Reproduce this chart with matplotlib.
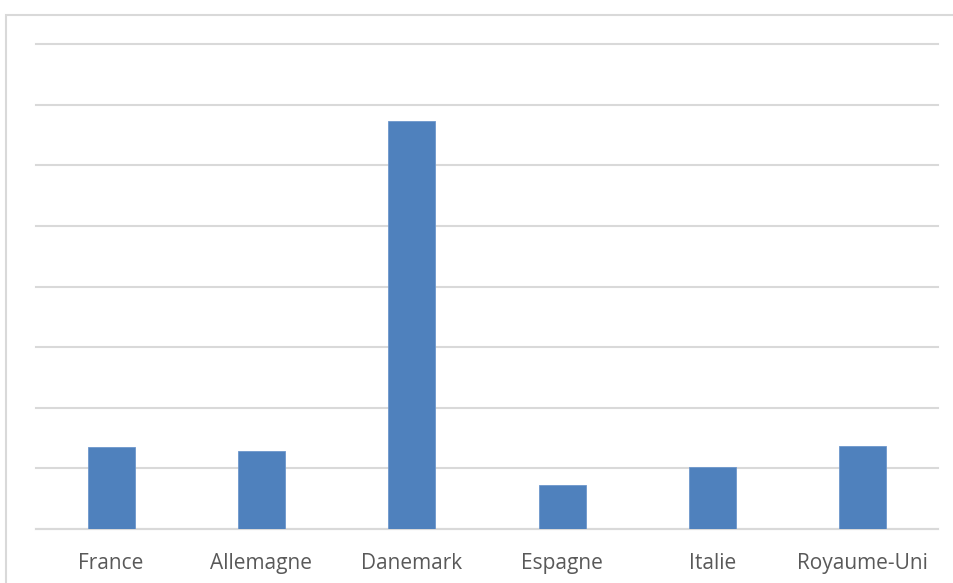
import matplotlib
matplotlib.use("Agg")
import matplotlib.pyplot as plt
from matplotlib.patches import Rectangle
import numpy as np

countries = ["France", "Allemagne", "Danemark", "Espagne", "Italie", "Royaume-Uni"]
values = [1.35, 1.29, 6.73, 0.73, 1.03, 1.37]

W, H = 954, 583
fig = plt.figure(figsize=(W / 100, H / 100), dpi=100)
fig.patch.set_facecolor("white")

# outer chart-area frame (runs off the right and bottom edges)
fig.patches.append(Rectangle((6.5 / W, -0.05), 1.2, (H - 15.5) / H + 0.05,
                             transform=fig.transFigure, fill=False,
                             edgecolor="#d9d9d9", linewidth=1.5, zorder=0))

left, right = 36 / W, 938 / W
bottom, top = (H - 529) / H, (H - 44) / H
ax = fig.add_axes([left, bottom, right - left, top - bottom])

x = np.arange(len(countries))
ax.bar(x, values, width=0.313, color="#4f81bd", edgecolor="#6d97cc",
       linewidth=0.6, zorder=3)

ax.set_xlim(-0.5, len(countries) - 0.5)
ax.set_ylim(0, 8)
ax.set_yticks(np.arange(0, 9, 1))
ax.yaxis.grid(True, color="#d9d9d9", linewidth=1.5, zorder=0)
for gl in ax.get_ygridlines():
    gl.set_clip_on(False)
ax.tick_params(axis="y", left=False, labelleft=False)
ax.tick_params(axis="x", bottom=False, pad=14)
ax.set_xticks(x)
ax.set_xticklabels(countries, fontsize=15, color="#595959", family="Open Sans")
for s in ["left", "right", "top"]:
    ax.spines[s].set_visible(False)
ax.spines["bottom"].set_color("#d9d9d9")
ax.spines["bottom"].set_linewidth(1.5)
ax.set_facecolor("none")

fig.savefig("out.png", dpi=100)
